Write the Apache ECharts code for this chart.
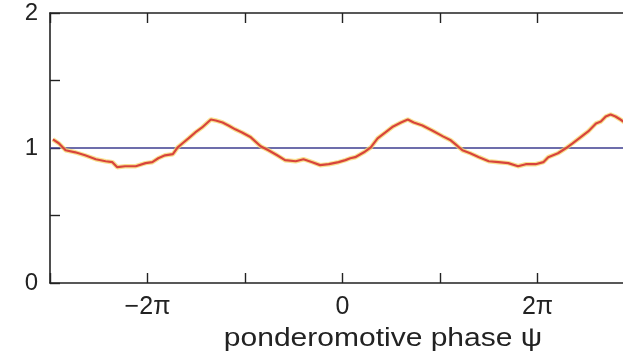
<!DOCTYPE html>
<html>
<head>
<meta charset="utf-8">
<script src="https://cdn.jsdelivr.net/npm/echarts@6/dist/echarts.min.js"></script>
<style>
  html, body { margin: 0; padding: 0; background: #fff; }
  #chart { width: 623px; height: 361px; }
</style>
</head>
<body>
<div id="chart"></div>
<script>
// phase psi in units of pi
const psiOverPi = [-2.97,-2.91,-2.84,-2.74,-2.64,-2.53,-2.43,-2.36,-2.31,-2.23,-2.12,-2.02,-1.95,-1.89,-1.82,-1.74,-1.69,-1.64,-1.58,-1.51,-1.44,-1.35,-1.30,-1.23,-1.17,-1.10,-1.03,-0.94,-0.84,-0.76,-0.67,-0.59,-0.48,-0.40,-0.31,-0.23,-0.14,-0.04,0.03,0.08,0.13,0.22,0.29,0.36,0.44,0.52,0.60,0.67,0.73,0.82,0.92,1.03,1.11,1.16,1.23,1.31,1.40,1.50,1.60,1.70,1.80,1.88,1.98,2.06,2.11,2.21,2.29,2.36,2.44,2.52,2.60,2.65,2.70,2.75,2.80,2.85,2.88,2.94,3.00];
const density = [1.064,1.035,0.983,0.968,0.946,0.917,0.902,0.895,0.858,0.865,0.865,0.888,0.895,0.924,0.946,0.954,1.005,1.035,1.071,1.115,1.152,1.211,1.204,1.189,1.167,1.138,1.115,1.079,1.013,0.983,0.946,0.910,0.902,0.917,0.895,0.873,0.880,0.895,0.910,0.924,0.932,0.968,1.005,1.071,1.115,1.160,1.189,1.211,1.189,1.167,1.130,1.086,1.057,1.027,0.983,0.961,0.932,0.902,0.895,0.888,0.865,0.880,0.880,0.895,0.932,0.961,0.998,1.035,1.079,1.123,1.182,1.196,1.233,1.248,1.233,1.211,1.196,1.167,1.145];
const baselineX = [-3, 3];
const baselineY = [1, 1];
const xTickLabels = { '-2': '\u22122\u03c0', '0': '0', '2': '2\u03c0' };
const yTickLabels = { '0': '0', '1': '1', '2': '2' };
const xTitle = 'ponderomotive phase \u03c8';

const FONT = 'Liberation Sans, Arial, Helvetica, sans-serif';
const chart = echarts.init(document.getElementById('chart'), null, { renderer: 'canvas' });

const curve = psiOverPi.map((x, i) => [x, density[i]]);
const base = baselineX.map((x, i) => [x, baselineY[i]]);

const axisLine = { show: true, onZero: false, lineStyle: { color: '#222', width: 1.6 } };
const axisTick = { show: true, inside: true, length: 10, lineStyle: { color: '#222', width: 1.4 } };

function isInt(v) { return Math.abs(v - Math.round(v)) < 1e-9; }

chart.setOption({
  animation: false,
  backgroundColor: '#fff',
  grid: { left: 50, top: 13, right: -12, bottom: 78, containLabel: false, outerBoundsMode: 'none' },
  xAxis: [
    {
      type: 'value', position: 'bottom', min: -3, max: 3, interval: 1,
      axisLine, axisTick, splitLine: { show: false },
      axisLabel: {
        margin: 12, color: '#222', fontFamily: FONT, fontSize: 25,
        formatter: v => (isInt(v) && xTickLabels[String(Math.round(v))] !== undefined) ? xTickLabels[String(Math.round(v))] : ''
      }
    },
    {
      type: 'value', position: 'top', min: -3, max: 3, interval: 1,
      axisLine, axisTick, splitLine: { show: false }, axisLabel: { show: false }
    }
  ],
  yAxis: [
    {
      type: 'value', position: 'left', min: 0, max: 2, interval: 0.5,
      axisLine, axisTick, splitLine: { show: false },
      axisLabel: {
        margin: 12, color: '#222', fontFamily: FONT, fontSize: 24,
        formatter: v => (isInt(v) ? yTickLabels[String(Math.round(v))] : '')
      }
    }
  ],
  graphic: [
    {
      type: 'text', x: 383, y: 339, scaleX: 1.2, scaleY: 1,
      style: { text: xTitle, fill: '#222', font: '25px ' + FONT, align: 'center', verticalAlign: 'middle' }
    }
  ],
  series: [
    {
      type: 'line', data: base, showSymbol: false, silent: true,
      lineStyle: { color: '#3d3d8f', width: 1.5 }, z: 2
    },
    {
      type: 'line', data: curve, showSymbol: false, silent: true,
      lineStyle: { color: '#f6d56a', width: 4.5, opacity: 0.75 }, z: 3
    },
    {
      type: 'line', data: curve, showSymbol: false, silent: true,
      lineStyle: { color: '#d8443c', width: 2.2 }, z: 4
    }
  ]
});
</script>
</body>
</html>
